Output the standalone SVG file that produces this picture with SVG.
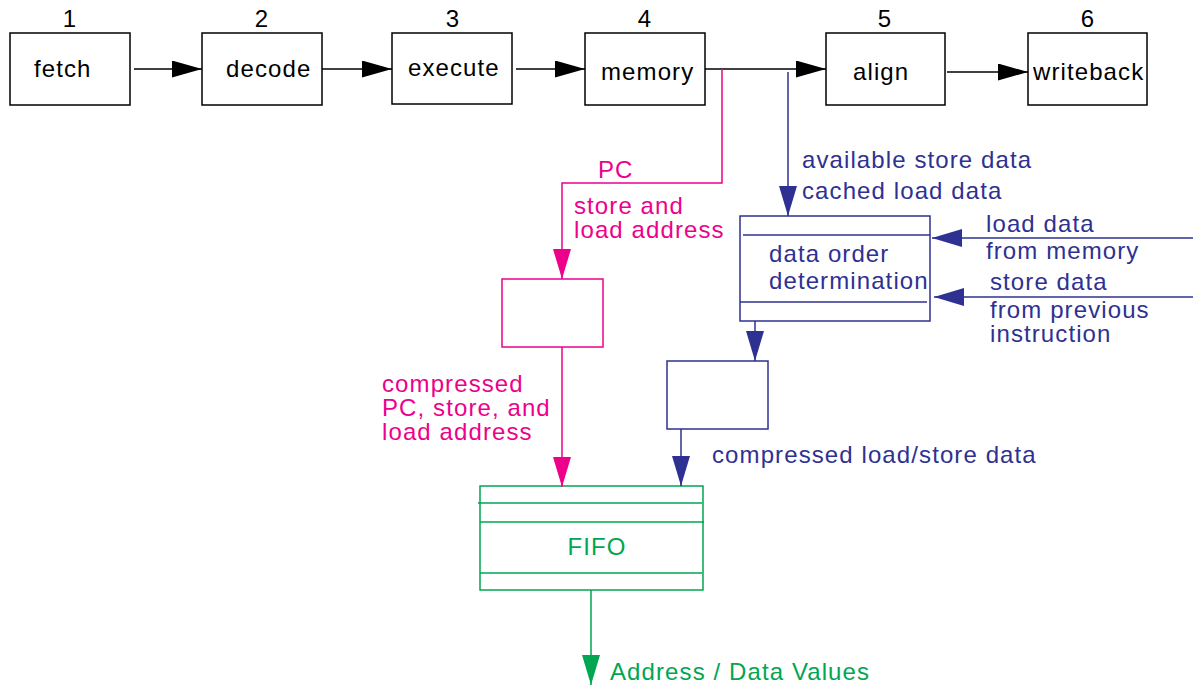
<svg xmlns="http://www.w3.org/2000/svg" width="1193" height="685" viewBox="0 0 1193 685">
<defs>
<style>
text{font-family:"Liberation Sans",Arial,sans-serif;font-size:24px;letter-spacing:1.1px}
.k{fill:#000}.p{fill:#EC008C}.b{fill:#2E3192}.g{fill:#00A651}
.box{fill:#fff;stroke:#000;stroke-width:1.5}
.pbox{fill:#fff;stroke:#EC008C;stroke-width:1.5}
.bbox{fill:#fff;stroke:#2E3192;stroke-width:1.5}
.gbox{fill:#fff;stroke:#00A651;stroke-width:1.5}
.lk{fill:none;stroke:#000;stroke-width:1.5}
.lp{fill:none;stroke:#EC008C;stroke-width:1.5}
.lb{fill:none;stroke:#2E3192;stroke-width:1.5}
.lg{fill:none;stroke:#00A651;stroke-width:1.5}
</style>
<marker id="ak" markerWidth="30" markerHeight="17" refX="30" refY="8.5" orient="auto" markerUnits="userSpaceOnUse"><path d="M0,0 L30,8.5 L0,17 z" fill="#000"/></marker>
<marker id="ap" markerWidth="30" markerHeight="18" refX="30" refY="9" orient="auto" markerUnits="userSpaceOnUse"><path d="M0,0 L30,9 L0,18 z" fill="#EC008C"/></marker>
<marker id="ab" markerWidth="30" markerHeight="18" refX="30" refY="9" orient="auto" markerUnits="userSpaceOnUse"><path d="M0,0 L30,9 L0,18 z" fill="#2E3192"/></marker>
<marker id="ag" markerWidth="30" markerHeight="18" refX="30" refY="9" orient="auto" markerUnits="userSpaceOnUse"><path d="M0,0 L30,9 L0,18 z" fill="#00A651"/></marker>
</defs>
<rect width="1193" height="685" fill="#fff"/>

<g id="fetch"><text class="k" x="70" y="27" text-anchor="middle">1</text><rect class="box" x="10" y="33" width="120" height="72"/><text class="k" x="34" y="77">fetch</text></g>
<g id="decode"><text class="k" x="262" y="27" text-anchor="middle">2</text><rect class="box" x="202" y="33" width="120" height="72"/><text class="k" x="226" y="77">decode</text></g>
<g id="execute"><text class="k" x="453" y="27" text-anchor="middle">3</text><rect class="box" x="392" y="33" width="120" height="71"/><text class="k" x="408" y="76">execute</text></g>
<g id="memory"><text class="k" x="645" y="27" text-anchor="middle">4</text><rect class="box" x="585" y="33" width="120" height="72"/><text class="k" x="601" y="80">memory</text></g>
<g id="align"><text class="k" x="885" y="27" text-anchor="middle">5</text><rect class="box" x="826" y="33" width="119" height="72"/><text class="k" x="853" y="80">align</text></g>
<g id="writeback"><text class="k" x="1088" y="27" text-anchor="middle">6</text><rect class="box" x="1028" y="33" width="119" height="72"/><text class="k" x="1033" y="80">writeback</text></g>

<g id="compress-addr"><rect class="pbox" x="502" y="279" width="101" height="68"/></g>
<g id="data-order"><rect class="bbox" x="740" y="216" width="190" height="105"/><line class="lb" x1="743" y1="235" x2="930" y2="235"/><line class="lb" x1="740" y1="302" x2="927" y2="302"/><text class="b" x="769" y="262">data order</text><text class="b" x="769" y="289">determination</text></g>
<g id="compress-data"><rect class="bbox" x="667" y="361" width="101" height="68"/></g>
<g id="fifo"><rect class="gbox" x="480" y="486" width="223" height="104"/><line class="lg" x1="478" y1="503" x2="702" y2="503"/><line class="lg" x1="480" y1="522" x2="704" y2="522"/><line class="lg" x1="480" y1="573" x2="702" y2="573"/><text class="g" x="597" y="555" text-anchor="middle">FIFO</text></g>

<g id="connectors">
<line class="lk" x1="134" y1="69" x2="202" y2="69" marker-end="url(#ak)"/>
<line class="lk" x1="322" y1="69" x2="392" y2="69" marker-end="url(#ak)"/>
<line class="lk" x1="516" y1="69" x2="585" y2="69" marker-end="url(#ak)"/>
<line class="lk" x1="705" y1="69" x2="826" y2="69" marker-end="url(#ak)"/>
<line class="lk" x1="947" y1="72" x2="1028" y2="72" marker-end="url(#ak)"/>
<polyline class="lp" points="722,69 722,183 562,183 562,279" marker-end="url(#ap)"/>
<line class="lp" x1="562" y1="347" x2="562" y2="487" marker-end="url(#ap)"/>
<line class="lb" x1="788" y1="72" x2="788" y2="216" marker-end="url(#ab)"/>
<line class="lb" x1="1193" y1="238" x2="932" y2="238" marker-end="url(#ab)"/>
<line class="lb" x1="1193" y1="297" x2="934" y2="297" marker-end="url(#ab)"/>
<line class="lb" x1="755" y1="321" x2="755" y2="361" marker-end="url(#ab)"/>
<line class="lb" x1="681" y1="429" x2="681" y2="486" marker-end="url(#ab)"/>
<line class="lg" x1="591" y1="590" x2="591" y2="685" marker-end="url(#ag)"/>
</g>

<g id="labels">
<text class="p" x="598" y="178">PC</text>
<text class="p" x="574" y="214">store and</text>
<text class="p" x="574" y="238">load address</text>
<text class="p" x="382" y="392">compressed</text>
<text class="p" x="382" y="416">PC, store, and</text>
<text class="p" x="382" y="440">load address</text>
<text class="b" x="802" y="168">available store data</text>
<text class="b" x="802" y="199">cached load data</text>
<text class="b" x="986" y="232">load data</text>
<text class="b" x="986" y="259">from memory</text>
<text class="b" x="990" y="290">store data</text>
<text class="b" x="990" y="318">from previous</text>
<text class="b" x="990" y="342">instruction</text>
<text class="b" x="712" y="463">compressed load/store data</text>
<text class="g" x="610" y="680">Address / Data Values</text>
</g>
</svg>
